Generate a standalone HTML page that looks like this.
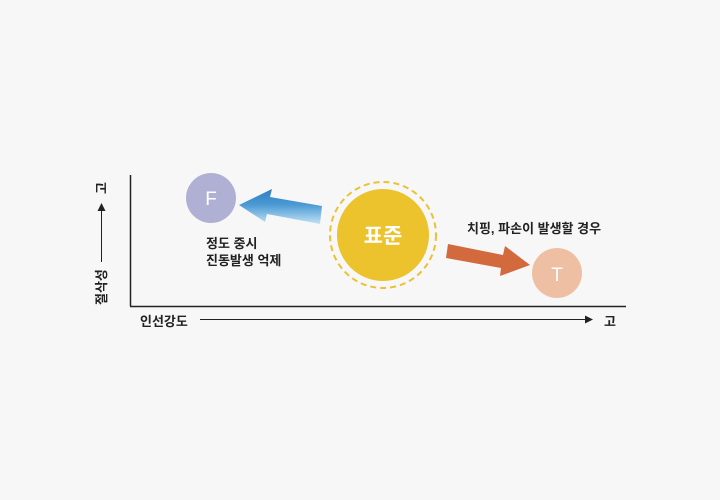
<!DOCTYPE html>
<html><head><meta charset="utf-8"><style>
body{margin:0;background:#f7f7f7;}
svg{display:block;}
text{font-family:"Liberation Sans","Noto Sans CJK KR",sans-serif;}
</style></head><body>
<svg width="720" height="500" viewBox="0 0 720 500" xmlns="http://www.w3.org/2000/svg">
<defs>
<linearGradient id="bg" x1="0" y1="189" x2="0" y2="224" gradientUnits="userSpaceOnUse">
<stop offset="0" stop-color="#2f7fc2"/><stop offset="0.45" stop-color="#4b9ad3"/><stop offset="1" stop-color="#c2e2f4"/>
</linearGradient>
</defs>
<rect width="720" height="500" fill="#f7f7f7"/>
<line x1="130.5" y1="175" x2="130.5" y2="306" stroke="#222" stroke-width="1.5"/>
<line x1="130" y1="306.5" x2="626" y2="306.5" stroke="#222" stroke-width="1.5"/>
<line x1="200" y1="319.5" x2="586" y2="319.5" stroke="#222" stroke-width="1"/>
<polygon points="593,319.5 585,315.5 585,323.5" fill="#222"/>
<text x="140" y="326" font-size="13" fill="#222" font-weight="bold">인선강도</text>
<text x="604" y="326" font-size="13" fill="#222" font-weight="bold">고</text>
<line x1="101.5" y1="262" x2="101.5" y2="210" stroke="#222" stroke-width="1"/>
<polygon points="101.5,203 97.5,211 105.5,211" fill="#222"/>
<text transform="translate(106,305) rotate(-90)" font-size="13" fill="#222" font-weight="bold">절삭성</text>
<text transform="translate(106,194) rotate(-90)" font-size="13" fill="#222" font-weight="bold">고</text>
<circle cx="211" cy="198" r="25" fill="#b0b0d4"/>
<text x="211" y="205" font-size="19" fill="#fff" text-anchor="middle">F</text>
<polygon points="322,206 270,197 272,189 239,205 265,222 267,214 320,224" fill="url(#bg)"/>
<text x="206" y="248" font-size="13" fill="#222" font-weight="bold">정도 중시</text>
<text x="206" y="265" font-size="13" fill="#222" font-weight="bold">진동발생 억제</text>
<circle cx="383" cy="235" r="53" fill="none" stroke="#eac232" stroke-width="2" stroke-dasharray="6,4"/>
<circle cx="383" cy="235" r="46" fill="#ecc22d"/>
<text x="383" y="243" font-size="21" fill="#fff" text-anchor="middle" font-weight="bold">표준</text>
<polygon points="448,244 503,255 505,246 530,265 500,276 501,268 446,258" fill="#d36a3d"/>
<text x="467" y="233" font-size="13" fill="#222" font-weight="bold">치핑, 파손이 발생할 경우</text>
<circle cx="557" cy="273" r="25" fill="#efbfa4"/>
<text x="557" y="281" font-size="19" fill="#fff" text-anchor="middle">T</text>
</svg>
</body></html>
